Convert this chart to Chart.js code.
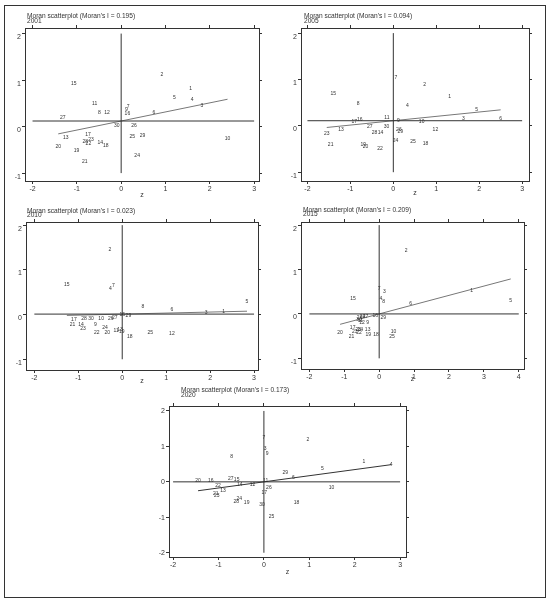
<!DOCTYPE html>
<html>
<head>
<meta charset="utf-8">
<script src="https://cdn.jsdelivr.net/npm/chart.js@4.4.1/dist/chart.umd.min.js"></script>
<style>
  html, body { margin: 0; padding: 0; background: #fff; }
  #wrap { position: relative; width: 550px; height: 602px; overflow: hidden; }
  #frame { position: absolute; left: 4px; top: 5px; width: 540px; height: 591px; border: 1.5px solid #333; }
  canvas { position: absolute; }
</style>
</head>
<body>
<div id="wrap">
  <div id="frame"></div>
  <canvas id="p2001"></canvas>
  <canvas id="p2005"></canvas>
  <canvas id="p2010"></canvas>
  <canvas id="p2015"></canvas>
  <canvas id="p2020"></canvas>
</div>
<script>
// region numbers 1..30, same order in every year
const regionIds = ['1','2','3','4','5','6','7','8','9','10','11','12','13','14','15',
  '16','17','18','19','20','21','22','23','24','25','26','27','28','29','30'];

// z (standardised value) and Wz (spatial lag)
const z2001  = [1.57, 0.92, 1.82, 1.60, 1.20, 0.74, 0.16, -0.49, 0.12, 2.40, -0.60, -0.32, -1.25, -0.47, -1.07,
  0.14, -0.75, -0.35, -1.01, -1.42, -0.82, -0.74, -0.68, 0.36, 0.25, 0.29, -1.32, -0.81, 0.48, -0.10];
const wz2001 = [0.82, 1.12, 0.45, 0.57, 0.62, 0.29, 0.42, 0.31, 0.37, -0.26, 0.49, 0.30, -0.24, -0.35, 0.93,
  0.28, -0.17, -0.40, -0.52, -0.44, -0.75, -0.37, -0.29, -0.62, -0.22, 0.01, 0.19, -0.32, -0.19, 0.02];

const z2005  = [1.31, 0.73, 1.63, 0.33, 1.94, 2.50, 0.06, -0.82, 0.12, 0.66, -0.15, 0.98, -1.22, -0.30, -1.40,
  -0.78, -0.91, 0.75, -0.70, -0.65, -1.46, -0.31, -1.55, 0.05, 0.46, 0.13, -0.55, -0.44, 0.16, -0.16];
const wz2005 = [0.63, 0.88, 0.15, 0.43, 0.35, 0.15, 1.04, 0.47, 0.12, 0.08, 0.18, -0.08, -0.09, -0.14, 0.70,
  0.14, 0.08, -0.38, -0.40, -0.45, -0.40, -0.50, -0.16, -0.31, -0.35, -0.08, -0.02, -0.14, -0.13, -0.02];

const z2010  = [2.31, -0.28, 1.91, -0.27, 2.84, 1.13, -0.20, 0.47, -0.61, -0.48, -0.14, 1.13, -0.05, -0.94, -1.26,
  0.00, -1.10, 0.17, -0.01, -0.34, -1.13, -0.58, -0.89, -0.39, 0.64, -0.26, -0.17, -0.87, 0.14, -0.71];
const wz2010 = [0.07, 1.45, 0.04, 0.58, 0.28, 0.10, 0.65, 0.17, -0.22, -0.10, -0.37, -0.43, -0.33, -0.22, 0.66,
  -0.01, -0.11, -0.49, -0.39, -0.40, -0.23, -0.40, -0.31, -0.29, -0.40, -0.09, -0.07, -0.09, -0.03, -0.08];

const z2015  = [2.65, 0.77, 0.15, 0.05, 3.77, 0.90, 0.00, 0.13, -0.33, 0.41, -0.54, -0.49, -0.33, -0.54, -0.75,
  -0.11, -0.76, -0.09, -0.31, -1.12, -0.79, -0.58, -0.70, -0.48, 0.37, -0.56, -0.39, -0.60, 0.12, -0.58];
const wz2015 = [0.52, 1.42, 0.50, 0.35, 0.30, 0.24, 0.58, 0.27, -0.20, -0.40, -0.15, -0.20, -0.36, -0.36, 0.35,
  -0.03, -0.30, -0.47, -0.47, -0.41, -0.52, -0.42, -0.39, -0.06, -0.51, -0.08, -0.05, -0.35, -0.08, -0.12];

const z2020  = [2.20, 0.97, 0.03, 2.80, 1.29, 0.65, 0.00, -0.71, 0.07, 1.49, 0.04, -0.25, -0.90, -0.53, -0.60,
  -1.17, 0.01, 0.72, -0.38, -1.45, -1.06, -1.01, -1.04, -0.54, 0.17, 0.11, -0.73, -0.61, 0.47, -0.04];
const wz2020 = [0.56, 1.18, 0.95, 0.48, 0.38, 0.12, 1.24, 0.71, 0.80, -0.15, 0.03, -0.08, -0.25, -0.08, 0.07,
  0.03, -0.31, -0.60, -0.60, 0.03, -0.33, -0.11, -0.40, -0.47, -0.97, -0.15, 0.08, -0.56, 0.27, -0.63];

// Moran's I (slope of the fit) and mean of Wz (horizontal line)
const years   = ['2001', '2005', '2010', '2015', '2020'];
const moranI  = [0.195, 0.094, 0.023, 0.209, 0.173];
const meanWz  = [0.12, 0.11, 0.01, 0.00, 0.00];

// tick labels
const xTicksA = [-2, -1, 0, 1, 2, 3];
const xTicksB = [-2, -1, 0, 1, 2, 3, 4];
const yTicksA = [-1, 0, 1, 2];
const yTicksB = [-2, -1, 0, 1, 2];

// layout of each panel: plot box on the page, axis ranges, text offsets
const panels = [
  { id: 'p2001', z: z2001, wz: wz2001, xt: xTicksA, yt: yTicksA, box: [25, 28, 259, 181],
    xr: [-2.17, 3.11], yr: [-1.17, 2.12], tx: 2, ty1: 12, ty2: 6.5, zy: 14, fit: '#777', lo: 3.5 },
  { id: 'p2005', z: z2005, wz: wz2005, xt: xTicksA, yt: yTicksA, box: [301, 28, 529, 181],
    xr: [-2.15, 3.16], yr: [-1.19, 2.11], tx: 3, ty1: 12, ty2: 7, zy: 12, fit: '#777', lo: 3.5 },
  { id: 'p2010', z: z2010, wz: wz2010, xt: xTicksA, yt: yTicksA, box: [26, 222, 258, 370],
    xr: [-2.19, 3.09], yr: [-1.24, 2.07], tx: 1, ty1: 11, ty2: 7, zy: 11, fit: '#777', lo: 3.5 },
  { id: 'p2015', z: z2015, wz: wz2015, xt: xTicksB, yt: yTicksA, box: [301, 222, 524, 369],
    xr: [-2.24, 4.15], yr: [-1.24, 2.07], tx: 2, ty1: 12, ty2: 7.5, zy: 10, fit: '#777', lo: 3.5 },
  { id: 'p2020', z: z2020, wz: wz2020, xt: xTicksA, yt: yTicksB, box: [169, 406, 406, 557],
    xr: [-2.09, 3.13], yr: [-2.12, 2.14], tx: 12, ty1: 16, ty2: 10.5, zy: 15, fit: '#333', lo: 0.5 }
];

const FONT = '"Liberation Sans", Arial, sans-serif';
const INK = '#333';
const AX_L = 25, AX_R = 13, AX_T = 28, AX_B = 24;

function axis(pos, range, ticks, showLabels, size, labelOffset) {
  return {
    type: 'linear',
    position: pos,
    min: range[0],
    max: range[1],
    afterBuildTicks: function (s) { s.ticks = ticks.map(function (v) { return { value: v }; }); },
    afterFit: function (s) {
      if (pos === 'left' || pos === 'right') s.width = size; else s.height = size;
    },
    grid: { drawOnChartArea: false, drawTicks: true, tickLength: 3, color: INK, lineWidth: 1 },
    border: { display: true, color: INK, width: 1 },
    ticks: {
      display: showLabels,
      padding: 1,
      labelOffset: labelOffset || 0,
      color: INK,
      font: { size: 7, family: FONT },
      callback: function (v) { return String(v); }
    }
  };
}

function makePanel(p, k) {
  const el = document.getElementById(p.id);
  const w = (p.box[2] - p.box[0]) + AX_L + AX_R;
  const h = (p.box[3] - p.box[1]) + AX_T + AX_B;
  el.width = w; el.height = h;
  el.style.left = (p.box[0] - AX_L) + 'px';
  el.style.top = (p.box[1] - AX_T) + 'px';
  el.style.width = w + 'px'; el.style.height = h + 'px';

  const pts = p.z.map(function (v, i) { return { x: v, y: p.wz[i] }; });
  const zMin = Math.min.apply(null, p.z), zMax = Math.max.apply(null, p.z);
  const x0 = p.xt[0], x1 = p.xt[p.xt.length - 1];
  const y0 = p.yt[0], y1 = p.yt[p.yt.length - 1];
  const title = "Moran scatterplot (Moran's I = " + moranI[k].toFixed(3) + ")";

  const labelPlugin = {
    id: 'moranText',
    afterDatasetsDraw: function (chart) {
      const ctx = chart.ctx, a = chart.chartArea;
      ctx.save();
      ctx.fillStyle = INK;
      ctx.textAlign = 'center';
      ctx.textBaseline = 'middle';
      ctx.font = '5px ' + FONT;
      chart.getDatasetMeta(0).data.forEach(function (el, i) {
        ctx.fillText(regionIds[i], el.x, el.y);
      });
      ctx.font = '6.6px ' + FONT;
      ctx.textAlign = 'left';
      ctx.fillText(title, a.left + p.tx, a.top - p.ty1);
      ctx.fillText(years[k], a.left + p.tx, a.top - p.ty2);
      ctx.textAlign = 'center';
      ctx.font = '7px ' + FONT;
      ctx.fillText('z', (a.left + a.right) / 2, a.bottom + p.zy);
      ctx.restore();
    }
  };

  new Chart(el, {
    type: 'scatter',
    data: {
      datasets: [
        { data: pts, pointRadius: 0, pointHoverRadius: 0 },
        { data: [{ x: x0, y: meanWz[k] }, { x: x1, y: meanWz[k] }], showLine: true,
          borderColor: INK, borderWidth: 1, pointRadius: 0 },
        { data: [{ x: 0, y: y0 }, { x: 0, y: y1 }], showLine: true,
          borderColor: INK, borderWidth: 1, pointRadius: 0 },
        { data: [{ x: zMin, y: meanWz[k] + moranI[k] * zMin }, { x: zMax, y: meanWz[k] + moranI[k] * zMax }],
          showLine: true, borderColor: p.fit, borderWidth: 1, pointRadius: 0 }
      ]
    },
    options: {
      responsive: false,
      animation: false,
      devicePixelRatio: 1,
      layout: { padding: 0 },
      plugins: { legend: { display: false }, tooltip: { enabled: false } },
      scales: {
        x: axis('bottom', p.xr, p.xt, true, AX_B, 0),
        x2: axis('top', p.xr, p.xt, false, AX_T, 0),
        y: axis('left', p.yr, p.yt, true, AX_L, p.lo),
        y2: axis('right', p.yr, p.yt, false, AX_R, 0)
      }
    },
    plugins: [labelPlugin]
  });
}

panels.forEach(makePanel);
</script>
</body>
</html>
